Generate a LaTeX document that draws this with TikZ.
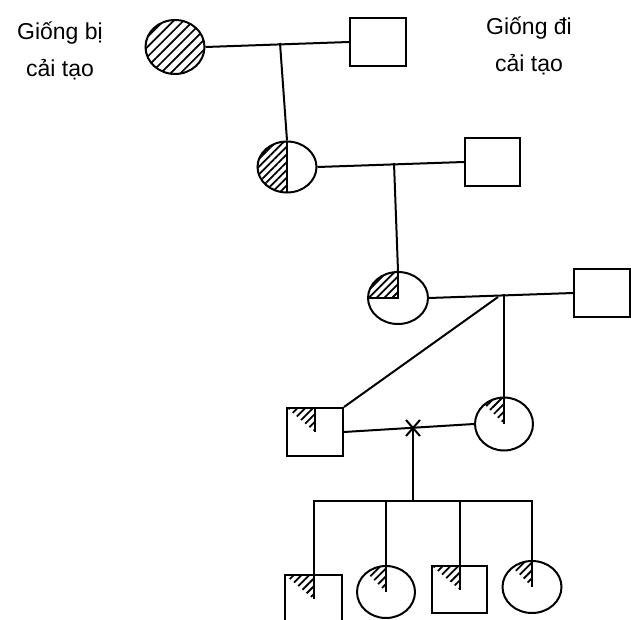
\documentclass[tikz,border=0pt]{standalone}
\usepackage{fontspec}
\setmainfont{Liberation Sans}
\usetikzlibrary{shapes.geometric,patterns.meta,calc}
\begin{document}
\begin{tikzpicture}[x=1pt,y=-1pt,line width=2pt,
  hatchbig/.style={pattern={Lines[angle=45,distance=7pt,line width=1.7pt]}},
  hatch/.style={pattern={Lines[angle=45,distance=5.5pt,line width=1.8pt]}},
  fem/.style={ellipse,draw,minimum width=58pt,minimum height=53pt,inner sep=0pt},
  mal/.style={rectangle,draw,minimum width=56pt,minimum height=48pt,inner sep=0pt},
  fullh/.style={path picture={\fill[hatchbig] (path picture bounding box.north west) rectangle (path picture bounding box.south east);}},
  halfh/.style={path picture={\fill[hatch] (path picture bounding box.north west) rectangle (path picture bounding box.south);
      \draw (path picture bounding box.north) -- (path picture bounding box.south);}},
  quarth/.style={path picture={\fill[hatch] (path picture bounding box.center) -- (path picture bounding box.north) -- (path picture bounding box.north west) -- (path picture bounding box.west) -- cycle;
      \draw (path picture bounding box.north) -- (path picture bounding box.center) -- (path picture bounding box.west);}},
  wedgeh/.style={path picture={\fill[hatch] (path picture bounding box.center) -- (path picture bounding box.north) -- ($(path picture bounding box.center)+(-60,-60)$) -- cycle;
      \draw (path picture bounding box.north) -- (path picture bounding box.center);}},
  triah/.style={path picture={\fill[hatch] (path picture bounding box.center) -- (path picture bounding box.north) -- (path picture bounding box.north west) -- cycle;
      \draw (path picture bounding box.north) -- (path picture bounding box.center);}},
  lbl/.style={font=\fontsize{23}{37}\selectfont,align=center,inner sep=0pt}
]
\useasboundingbox (0,0) rectangle (631,620);

% labels
\node[lbl] (t1) at (60,51) {Giống bị\\cải tạo};
\node[lbl] (t2) at (529,46) {Giống đi\\cải tạo};

% generation 1
\node[fem,fullh,minimum width=59pt,minimum height=54pt] (c1) at (175,47) {};
\node[mal] (s1) at (378,42) {};
\coordinate (j1) at (280,43);
\draw (c1.east) -- (s1.west);

% generation 2
\node[fem,halfh,minimum width=59pt,minimum height=51pt] (c2) at (287,167) {};
\node[mal,minimum width=55pt] (s2) at (492.5,162) {};
\coordinate (j2) at (394,163);
\draw (j1) -- (c2.north);
\draw (c2.east) -- (s2.west);

% generation 3
\node[fem,quarth,minimum width=60pt,minimum height=52pt] (c3) at (398,298) {};
\node[mal] (s3) at (602,293) {};
\coordinate (j3) at (504,294);
\coordinate (d3) at (498,297);
\draw (j2) -- (c3.north);
\draw (c3.east) -- (s3.west);

% generation 4
\node[mal,triah] (s4) at (315,432) {};
\node[fem,wedgeh] (c4) at (504,424) {};
\coordinate (xm) at (413,428);
\coordinate (j5) at (413,501);
\draw (j3) -- (c4.north);
\draw (d3) -- (s4.north east);
\draw (s4.east) -- (c4.west);
\draw (xm) ++(-7,-8) -- ++(14,16);
\draw (xm) ++(7,-8) -- ++(-14,16);
\draw (xm) -- (j5);

% generation 5
\node[mal,triah,minimum width=57pt] (s5a) at (313.5,599) {};
\node[fem,wedgeh,minimum width=58pt,minimum height=52pt] (c5b) at (386,592) {};
\node[mal,triah,minimum width=55pt,minimum height=47pt] (s5c) at (459.5,589.5) {};
\node[fem,wedgeh,minimum width=59pt,minimum height=52pt] (c5d) at (532,587) {};
\draw (s5a.north) |- (j5) -| (c5d.north);
\draw (c5b.north) -- (c5b.north |- j5);
\draw (s5c.north) -- (s5c.north |- j5);
\end{tikzpicture}
\end{document}
